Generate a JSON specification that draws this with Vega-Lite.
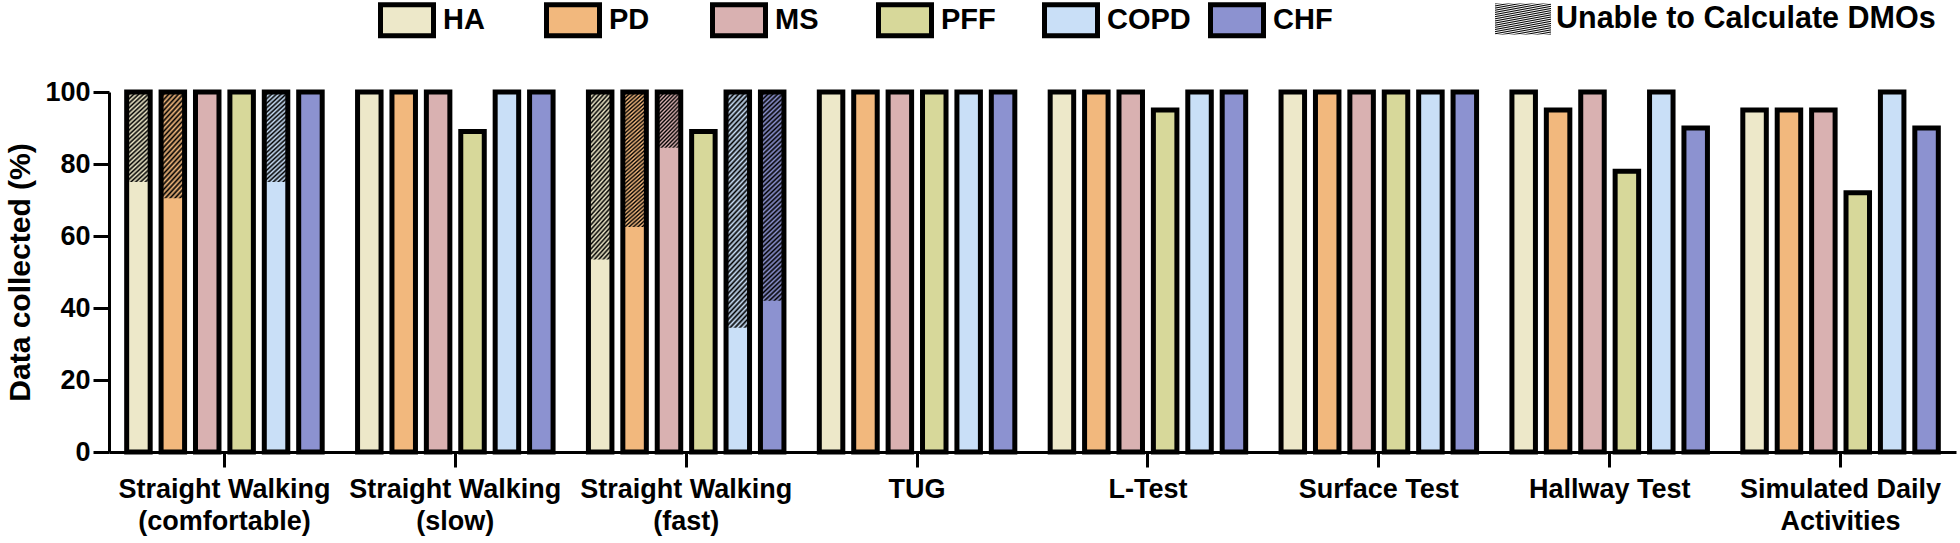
{
  "$schema": "https://vega.github.io/schema/vega-lite/v6.json",
  "width": 1847,
  "height": 360,
  "autosize": {"type": "none"},
  "padding": {"left": 109, "top": 92, "right": 4, "bottom": 91},
  "background": "white",
  "config": {
    "view": {"stroke": null},
    "font": "Liberation Sans",
    "axisX": {"domainColor": "black", "domainWidth": 3, "tickColor": "black", "tickWidth": 3, "tickSize": 15, "labelFontSize": 27, "labelFontWeight": "bold", "labelColor": "black", "labelPadding": 9, "labelAngle": 0, "labelLineHeight": 32, "labelLimit": 400, "labelOverlap": false, "grid": false},
    "axisY": {"domainColor": "black", "domainWidth": 3, "tickColor": "black", "tickWidth": 3, "tickSize": 16, "labelFontSize": 27, "labelFontWeight": "bold", "labelColor": "black", "labelPadding": 3, "titleFontSize": 30, "titleFontWeight": "bold", "titleColor": "black", "titlePadding": 9, "grid": false}
  },
  "data": {"values": [
    {"task": "Straight Walking (comfortable)", "group": "HA", "collected": 100, "valid": 75},
    {"task": "Straight Walking (comfortable)", "group": "PD", "collected": 100, "valid": 70.5},
    {"task": "Straight Walking (comfortable)", "group": "MS", "collected": 100, "valid": 100},
    {"task": "Straight Walking (comfortable)", "group": "PFF", "collected": 100, "valid": 100},
    {"task": "Straight Walking (comfortable)", "group": "COPD", "collected": 100, "valid": 75},
    {"task": "Straight Walking (comfortable)", "group": "CHF", "collected": 100, "valid": 100},
    {"task": "Straight Walking (slow)", "group": "HA", "collected": 100, "valid": 100},
    {"task": "Straight Walking (slow)", "group": "PD", "collected": 100, "valid": 100},
    {"task": "Straight Walking (slow)", "group": "MS", "collected": 100, "valid": 100},
    {"task": "Straight Walking (slow)", "group": "PFF", "collected": 89, "valid": 89},
    {"task": "Straight Walking (slow)", "group": "COPD", "collected": 100, "valid": 100},
    {"task": "Straight Walking (slow)", "group": "CHF", "collected": 100, "valid": 100},
    {"task": "Straight Walking (fast)", "group": "HA", "collected": 100, "valid": 53.5},
    {"task": "Straight Walking (fast)", "group": "PD", "collected": 100, "valid": 62.5},
    {"task": "Straight Walking (fast)", "group": "MS", "collected": 100, "valid": 84.5},
    {"task": "Straight Walking (fast)", "group": "PFF", "collected": 89, "valid": 89},
    {"task": "Straight Walking (fast)", "group": "COPD", "collected": 100, "valid": 34.5},
    {"task": "Straight Walking (fast)", "group": "CHF", "collected": 100, "valid": 42},
    {"task": "TUG", "group": "HA", "collected": 100, "valid": 100},
    {"task": "TUG", "group": "PD", "collected": 100, "valid": 100},
    {"task": "TUG", "group": "MS", "collected": 100, "valid": 100},
    {"task": "TUG", "group": "PFF", "collected": 100, "valid": 100},
    {"task": "TUG", "group": "COPD", "collected": 100, "valid": 100},
    {"task": "TUG", "group": "CHF", "collected": 100, "valid": 100},
    {"task": "L-Test", "group": "HA", "collected": 100, "valid": 100},
    {"task": "L-Test", "group": "PD", "collected": 100, "valid": 100},
    {"task": "L-Test", "group": "MS", "collected": 100, "valid": 100},
    {"task": "L-Test", "group": "PFF", "collected": 95, "valid": 95},
    {"task": "L-Test", "group": "COPD", "collected": 100, "valid": 100},
    {"task": "L-Test", "group": "CHF", "collected": 100, "valid": 100},
    {"task": "Surface Test", "group": "HA", "collected": 100, "valid": 100},
    {"task": "Surface Test", "group": "PD", "collected": 100, "valid": 100},
    {"task": "Surface Test", "group": "MS", "collected": 100, "valid": 100},
    {"task": "Surface Test", "group": "PFF", "collected": 100, "valid": 100},
    {"task": "Surface Test", "group": "COPD", "collected": 100, "valid": 100},
    {"task": "Surface Test", "group": "CHF", "collected": 100, "valid": 100},
    {"task": "Hallway Test", "group": "HA", "collected": 100, "valid": 100},
    {"task": "Hallway Test", "group": "PD", "collected": 95, "valid": 95},
    {"task": "Hallway Test", "group": "MS", "collected": 100, "valid": 100},
    {"task": "Hallway Test", "group": "PFF", "collected": 78, "valid": 78},
    {"task": "Hallway Test", "group": "COPD", "collected": 100, "valid": 100},
    {"task": "Hallway Test", "group": "CHF", "collected": 90, "valid": 90},
    {"task": "Simulated Daily Activities", "group": "HA", "collected": 95, "valid": 95},
    {"task": "Simulated Daily Activities", "group": "PD", "collected": 95, "valid": 95},
    {"task": "Simulated Daily Activities", "group": "MS", "collected": 95, "valid": 95},
    {"task": "Simulated Daily Activities", "group": "PFF", "collected": 72, "valid": 72},
    {"task": "Simulated Daily Activities", "group": "COPD", "collected": 100, "valid": 100},
    {"task": "Simulated Daily Activities", "group": "CHF", "collected": 90, "valid": 90}
  ]},
  "encoding": {
    "x": {"field": "task", "type": "nominal", "sort": null, "title": null,
      "scale": {"paddingInner": 0, "paddingOuter": 0},
      "axis": {"labelExpr": "datum.value == 'Simulated Daily Activities' ? ['Simulated Daily', 'Activities'] : split(replace(datum.value, ' (', '|('), '|')"}},
    "xOffset": {"field": "group", "type": "nominal", "sort": ["HA", "PD", "MS", "PFF", "COPD", "CHF"],
      "scale": {"paddingInner": 0.317, "paddingOuter": 0.514}}
  },
  "layer": [
    {
      "mark": {"type": "bar"},
      "encoding": {
        "y": {"field": "collected", "type": "quantitative", "title": "Data collected (%)",
          "scale": {"domain": [0, 100], "nice": false},
          "axis": {"values": [0, 20, 40, 60, 80, 100]}},
        "fill": {"field": "group", "type": "nominal",
          "scale": {"domain": ["HA", "PD", "MS", "PFF", "COPD", "CHF"], "range": ["#ede8c9", "#f2b87d", "#d9b1b1", "#d7d89a", "#c9dff7", "#8c92d0"]},
          "legend": {"orient": "none", "legendX": 269, "legendY": -101, "direction": "horizontal", "columns": 6, "gridAlign": "all", "columnPadding": 9, "title": null, "padding": 0,
            "symbolType": "M-1,-0.585H1V0.585H-1Z", "symbolSize": 2809, "symbolStrokeColor": "black", "symbolStrokeWidth": 5, "symbolOpacity": 1,
            "labelOffset": 7, "labelFontSize": 29, "labelFontWeight": "bold", "labelColor": "black", "labelLimit": 500}}
      }
    },
    {
      "transform": [{"filter": "datum.valid < datum.collected && datum.collected - datum.valid < 20"}],
      "mark": {"type": "bar", "fill": {"gradient": "linear", "x1": 0, "y1": 0, "x2": 0.525, "y2": 1.207, "stops": [{"offset":0,"color":"#000"},{"offset":0.025,"color":"transparent"},{"offset":0.05,"color":"#000"},{"offset":0.075,"color":"transparent"},{"offset":0.1,"color":"#000"},{"offset":0.125,"color":"transparent"},{"offset":0.15,"color":"#000"},{"offset":0.175,"color":"transparent"},{"offset":0.2,"color":"#000"},{"offset":0.225,"color":"transparent"},{"offset":0.25,"color":"#000"},{"offset":0.275,"color":"transparent"},{"offset":0.3,"color":"#000"},{"offset":0.325,"color":"transparent"},{"offset":0.35,"color":"#000"},{"offset":0.375,"color":"transparent"},{"offset":0.4,"color":"#000"},{"offset":0.425,"color":"transparent"},{"offset":0.45,"color":"#000"},{"offset":0.475,"color":"transparent"},{"offset":0.5,"color":"#000"},{"offset":0.525,"color":"transparent"},{"offset":0.55,"color":"#000"},{"offset":0.575,"color":"transparent"},{"offset":0.6,"color":"#000"},{"offset":0.625,"color":"transparent"},{"offset":0.65,"color":"#000"},{"offset":0.675,"color":"transparent"},{"offset":0.7,"color":"#000"},{"offset":0.725,"color":"transparent"},{"offset":0.75,"color":"#000"},{"offset":0.775,"color":"transparent"},{"offset":0.8,"color":"#000"},{"offset":0.825,"color":"transparent"},{"offset":0.85,"color":"#000"},{"offset":0.875,"color":"transparent"},{"offset":0.9,"color":"#000"},{"offset":0.925,"color":"transparent"},{"offset":0.95,"color":"#000"},{"offset":0.975,"color":"transparent"},{"offset":1,"color":"#000"}]}},
      "encoding": {
        "y": {"field": "valid", "type": "quantitative", "title": "Data collected (%)"},
        "y2": {"field": "collected"}
      }
    },
    {
      "transform": [{"filter": "datum.collected - datum.valid >= 20 && datum.collected - datum.valid < 35"}],
      "mark": {"type": "bar", "fill": {"gradient": "linear", "x1": 0, "y1": 0, "x2": 0.284, "y2": 1.173, "stops": [{"offset":0,"color":"#000"},{"offset":0.02,"color":"transparent"},{"offset":0.04,"color":"#000"},{"offset":0.06,"color":"transparent"},{"offset":0.08,"color":"#000"},{"offset":0.1,"color":"transparent"},{"offset":0.12,"color":"#000"},{"offset":0.14,"color":"transparent"},{"offset":0.16,"color":"#000"},{"offset":0.18,"color":"transparent"},{"offset":0.2,"color":"#000"},{"offset":0.22,"color":"transparent"},{"offset":0.24,"color":"#000"},{"offset":0.26,"color":"transparent"},{"offset":0.28,"color":"#000"},{"offset":0.3,"color":"transparent"},{"offset":0.32,"color":"#000"},{"offset":0.34,"color":"transparent"},{"offset":0.36,"color":"#000"},{"offset":0.38,"color":"transparent"},{"offset":0.4,"color":"#000"},{"offset":0.42,"color":"transparent"},{"offset":0.44,"color":"#000"},{"offset":0.46,"color":"transparent"},{"offset":0.48,"color":"#000"},{"offset":0.5,"color":"transparent"},{"offset":0.52,"color":"#000"},{"offset":0.54,"color":"transparent"},{"offset":0.56,"color":"#000"},{"offset":0.58,"color":"transparent"},{"offset":0.6,"color":"#000"},{"offset":0.62,"color":"transparent"},{"offset":0.64,"color":"#000"},{"offset":0.66,"color":"transparent"},{"offset":0.68,"color":"#000"},{"offset":0.7,"color":"transparent"},{"offset":0.72,"color":"#000"},{"offset":0.74,"color":"transparent"},{"offset":0.76,"color":"#000"},{"offset":0.78,"color":"transparent"},{"offset":0.8,"color":"#000"},{"offset":0.82,"color":"transparent"},{"offset":0.84,"color":"#000"},{"offset":0.86,"color":"transparent"},{"offset":0.88,"color":"#000"},{"offset":0.9,"color":"transparent"},{"offset":0.92,"color":"#000"},{"offset":0.94,"color":"transparent"},{"offset":0.96,"color":"#000"},{"offset":0.98,"color":"transparent"},{"offset":1,"color":"#000"}]}},
      "encoding": {
        "y": {"field": "valid", "type": "quantitative", "title": "Data collected (%)"},
        "y2": {"field": "collected"}
      }
    },
    {
      "transform": [{"filter": "datum.collected - datum.valid >= 35 && datum.collected - datum.valid < 50"}],
      "mark": {"type": "bar", "fill": {"gradient": "linear", "x1": 0, "y1": 0, "x2": 0.177, "y2": 1.129, "stops": [{"offset":0,"color":"#000"},{"offset":0.0125,"color":"transparent"},{"offset":0.025,"color":"#000"},{"offset":0.0375,"color":"transparent"},{"offset":0.05,"color":"#000"},{"offset":0.0625,"color":"transparent"},{"offset":0.075,"color":"#000"},{"offset":0.0875,"color":"transparent"},{"offset":0.1,"color":"#000"},{"offset":0.1125,"color":"transparent"},{"offset":0.125,"color":"#000"},{"offset":0.1375,"color":"transparent"},{"offset":0.15,"color":"#000"},{"offset":0.1625,"color":"transparent"},{"offset":0.175,"color":"#000"},{"offset":0.1875,"color":"transparent"},{"offset":0.2,"color":"#000"},{"offset":0.2125,"color":"transparent"},{"offset":0.225,"color":"#000"},{"offset":0.2375,"color":"transparent"},{"offset":0.25,"color":"#000"},{"offset":0.2625,"color":"transparent"},{"offset":0.275,"color":"#000"},{"offset":0.2875,"color":"transparent"},{"offset":0.3,"color":"#000"},{"offset":0.3125,"color":"transparent"},{"offset":0.325,"color":"#000"},{"offset":0.3375,"color":"transparent"},{"offset":0.35,"color":"#000"},{"offset":0.3625,"color":"transparent"},{"offset":0.375,"color":"#000"},{"offset":0.3875,"color":"transparent"},{"offset":0.4,"color":"#000"},{"offset":0.4125,"color":"transparent"},{"offset":0.425,"color":"#000"},{"offset":0.4375,"color":"transparent"},{"offset":0.45,"color":"#000"},{"offset":0.4625,"color":"transparent"},{"offset":0.475,"color":"#000"},{"offset":0.4875,"color":"transparent"},{"offset":0.5,"color":"#000"},{"offset":0.5125,"color":"transparent"},{"offset":0.525,"color":"#000"},{"offset":0.5375,"color":"transparent"},{"offset":0.55,"color":"#000"},{"offset":0.5625,"color":"transparent"},{"offset":0.575,"color":"#000"},{"offset":0.5875,"color":"transparent"},{"offset":0.6,"color":"#000"},{"offset":0.6125,"color":"transparent"},{"offset":0.625,"color":"#000"},{"offset":0.6375,"color":"transparent"},{"offset":0.65,"color":"#000"},{"offset":0.6625,"color":"transparent"},{"offset":0.675,"color":"#000"},{"offset":0.6875,"color":"transparent"},{"offset":0.7,"color":"#000"},{"offset":0.7125,"color":"transparent"},{"offset":0.725,"color":"#000"},{"offset":0.7375,"color":"transparent"},{"offset":0.75,"color":"#000"},{"offset":0.7625,"color":"transparent"},{"offset":0.775,"color":"#000"},{"offset":0.7875,"color":"transparent"},{"offset":0.8,"color":"#000"},{"offset":0.8125,"color":"transparent"},{"offset":0.825,"color":"#000"},{"offset":0.8375,"color":"transparent"},{"offset":0.85,"color":"#000"},{"offset":0.8625,"color":"transparent"},{"offset":0.875,"color":"#000"},{"offset":0.8875,"color":"transparent"},{"offset":0.9,"color":"#000"},{"offset":0.9125,"color":"transparent"},{"offset":0.925,"color":"#000"},{"offset":0.9375,"color":"transparent"},{"offset":0.95,"color":"#000"},{"offset":0.9625,"color":"transparent"},{"offset":0.975,"color":"#000"},{"offset":0.9875,"color":"transparent"},{"offset":1,"color":"#000"}]}},
      "encoding": {
        "y": {"field": "valid", "type": "quantitative", "title": "Data collected (%)"},
        "y2": {"field": "collected"}
      }
    },
    {
      "transform": [{"filter": "datum.collected - datum.valid >= 50"}],
      "mark": {"type": "bar", "fill": {"gradient": "linear", "x1": 0, "y1": 0, "x2": 0.117, "y2": 1.094, "stops": [{"offset":0,"color":"#000"},{"offset":0.01,"color":"transparent"},{"offset":0.02,"color":"#000"},{"offset":0.03,"color":"transparent"},{"offset":0.04,"color":"#000"},{"offset":0.05,"color":"transparent"},{"offset":0.06,"color":"#000"},{"offset":0.07,"color":"transparent"},{"offset":0.08,"color":"#000"},{"offset":0.09,"color":"transparent"},{"offset":0.1,"color":"#000"},{"offset":0.11,"color":"transparent"},{"offset":0.12,"color":"#000"},{"offset":0.13,"color":"transparent"},{"offset":0.14,"color":"#000"},{"offset":0.15,"color":"transparent"},{"offset":0.16,"color":"#000"},{"offset":0.17,"color":"transparent"},{"offset":0.18,"color":"#000"},{"offset":0.19,"color":"transparent"},{"offset":0.2,"color":"#000"},{"offset":0.21,"color":"transparent"},{"offset":0.22,"color":"#000"},{"offset":0.23,"color":"transparent"},{"offset":0.24,"color":"#000"},{"offset":0.25,"color":"transparent"},{"offset":0.26,"color":"#000"},{"offset":0.27,"color":"transparent"},{"offset":0.28,"color":"#000"},{"offset":0.29,"color":"transparent"},{"offset":0.3,"color":"#000"},{"offset":0.31,"color":"transparent"},{"offset":0.32,"color":"#000"},{"offset":0.33,"color":"transparent"},{"offset":0.34,"color":"#000"},{"offset":0.35,"color":"transparent"},{"offset":0.36,"color":"#000"},{"offset":0.37,"color":"transparent"},{"offset":0.38,"color":"#000"},{"offset":0.39,"color":"transparent"},{"offset":0.4,"color":"#000"},{"offset":0.41,"color":"transparent"},{"offset":0.42,"color":"#000"},{"offset":0.43,"color":"transparent"},{"offset":0.44,"color":"#000"},{"offset":0.45,"color":"transparent"},{"offset":0.46,"color":"#000"},{"offset":0.47,"color":"transparent"},{"offset":0.48,"color":"#000"},{"offset":0.49,"color":"transparent"},{"offset":0.5,"color":"#000"},{"offset":0.51,"color":"transparent"},{"offset":0.52,"color":"#000"},{"offset":0.53,"color":"transparent"},{"offset":0.54,"color":"#000"},{"offset":0.55,"color":"transparent"},{"offset":0.56,"color":"#000"},{"offset":0.57,"color":"transparent"},{"offset":0.58,"color":"#000"},{"offset":0.59,"color":"transparent"},{"offset":0.6,"color":"#000"},{"offset":0.61,"color":"transparent"},{"offset":0.62,"color":"#000"},{"offset":0.63,"color":"transparent"},{"offset":0.64,"color":"#000"},{"offset":0.65,"color":"transparent"},{"offset":0.66,"color":"#000"},{"offset":0.67,"color":"transparent"},{"offset":0.68,"color":"#000"},{"offset":0.69,"color":"transparent"},{"offset":0.7,"color":"#000"},{"offset":0.71,"color":"transparent"},{"offset":0.72,"color":"#000"},{"offset":0.73,"color":"transparent"},{"offset":0.74,"color":"#000"},{"offset":0.75,"color":"transparent"},{"offset":0.76,"color":"#000"},{"offset":0.77,"color":"transparent"},{"offset":0.78,"color":"#000"},{"offset":0.79,"color":"transparent"},{"offset":0.8,"color":"#000"},{"offset":0.81,"color":"transparent"},{"offset":0.82,"color":"#000"},{"offset":0.83,"color":"transparent"},{"offset":0.84,"color":"#000"},{"offset":0.85,"color":"transparent"},{"offset":0.86,"color":"#000"},{"offset":0.87,"color":"transparent"},{"offset":0.88,"color":"#000"},{"offset":0.89,"color":"transparent"},{"offset":0.9,"color":"#000"},{"offset":0.91,"color":"transparent"},{"offset":0.92,"color":"#000"},{"offset":0.93,"color":"transparent"},{"offset":0.94,"color":"#000"},{"offset":0.95,"color":"transparent"},{"offset":0.96,"color":"#000"},{"offset":0.97,"color":"transparent"},{"offset":0.98,"color":"#000"},{"offset":0.99,"color":"transparent"},{"offset":1,"color":"#000"}]}},
      "encoding": {
        "y": {"field": "valid", "type": "quantitative", "title": "Data collected (%)"},
        "y2": {"field": "collected"},
        "opacity": {"datum": "Unable to Calculate DMOs", "type": "nominal", "scale": {"range": [1]},
          "legend": {"orient": "none", "legendX": 1385, "legendY": -102, "title": null, "padding": 0,
            "symbolType": "M-1,-0.55H1V0.55H-1Z", "symbolSize": 3136, "labelOffset": 4, "labelFontSize": 30.5, "labelFontWeight": "bold", "labelColor": "black", "labelLimit": 500,
            "encode": {"symbols": {"update": {"opacity": {"value": 1}, "stroke": {"value": "#3a3a3a"}, "strokeWidth": {"value": 3.5},
              "fill": {"value": {"gradient": "linear", "x1": 0, "y1": 0, "x2": 1.19, "y2": 0.655, "stops": [{"offset":0,"color":"#1a1a1a"},{"offset":0.025,"color":"#ffffff"},{"offset":0.05,"color":"#1a1a1a"},{"offset":0.075,"color":"#ffffff"},{"offset":0.1,"color":"#1a1a1a"},{"offset":0.125,"color":"#ffffff"},{"offset":0.15,"color":"#1a1a1a"},{"offset":0.175,"color":"#ffffff"},{"offset":0.2,"color":"#1a1a1a"},{"offset":0.225,"color":"#ffffff"},{"offset":0.25,"color":"#1a1a1a"},{"offset":0.275,"color":"#ffffff"},{"offset":0.3,"color":"#1a1a1a"},{"offset":0.325,"color":"#ffffff"},{"offset":0.35,"color":"#1a1a1a"},{"offset":0.375,"color":"#ffffff"},{"offset":0.4,"color":"#1a1a1a"},{"offset":0.425,"color":"#ffffff"},{"offset":0.45,"color":"#1a1a1a"},{"offset":0.475,"color":"#ffffff"},{"offset":0.5,"color":"#1a1a1a"},{"offset":0.525,"color":"#ffffff"},{"offset":0.55,"color":"#1a1a1a"},{"offset":0.575,"color":"#ffffff"},{"offset":0.6,"color":"#1a1a1a"},{"offset":0.625,"color":"#ffffff"},{"offset":0.65,"color":"#1a1a1a"},{"offset":0.675,"color":"#ffffff"},{"offset":0.7,"color":"#1a1a1a"},{"offset":0.725,"color":"#ffffff"},{"offset":0.75,"color":"#1a1a1a"},{"offset":0.775,"color":"#ffffff"},{"offset":0.8,"color":"#1a1a1a"},{"offset":0.825,"color":"#ffffff"},{"offset":0.85,"color":"#1a1a1a"},{"offset":0.875,"color":"#ffffff"},{"offset":0.9,"color":"#1a1a1a"},{"offset":0.925,"color":"#ffffff"},{"offset":0.95,"color":"#1a1a1a"},{"offset":0.975,"color":"#ffffff"},{"offset":1,"color":"#1a1a1a"}]}}}}}}}
      }
    },
    {
      "mark": {"type": "bar", "filled": false, "stroke": "black", "strokeWidth": 5, "strokeJoin": "miter"},
      "encoding": {
        "y": {"field": "collected", "type": "quantitative", "title": "Data collected (%)"}
      }
    }
  ]
}
